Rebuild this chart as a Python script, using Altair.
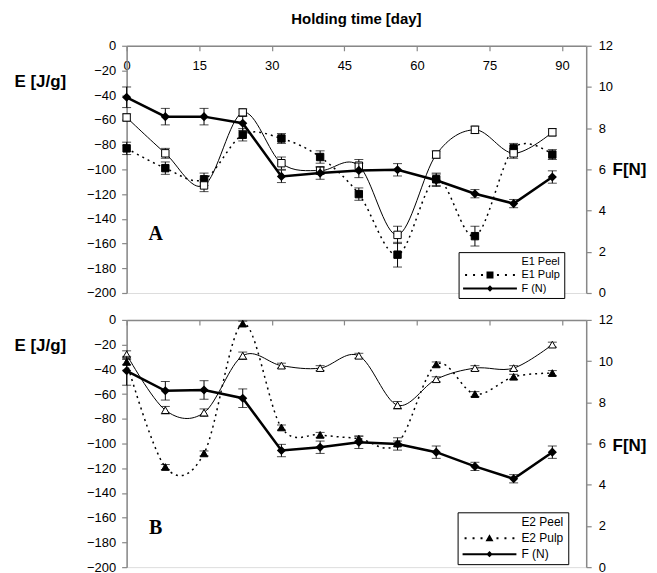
import altair as alt
import pandas as pd

# ---------------- data ----------------
days = [0, 8, 16, 24, 32, 40, 48, 56, 64, 72, 80, 88]
x_ticks = [0, 15, 30, 45, 60, 75, 90]
e_ticks = [-200, -180, -160, -140, -120, -100, -80, -60, -40, -20, 0]
f_ticks = [0, 2, 4, 6, 8, 10, 12]

# Panel A
e1_peel = [-58, -87, -113, -54, -95, -101, -97, -153, -88, -68, -87, -70]
e1_peel_err = [3, 4, 5, 3, 5, 3, 5, 7, 3, 3, 4, 3]
e1_pulp = [-83, -99, -108, -72, -75, -90, -120, -169, -108, -154, -83, -88]
e1_pulp_err = [5, 5, 5, 5, 4, 5, 5, 10, 5, 8, 4, 4]
f_a = [9.5, 8.56, 8.56, 8.24, 5.66, 5.82, 5.95, 5.98, 5.47, 4.82, 4.34, 5.63]
f_a_err = [0.5, 0.4, 0.4, 0.35, 0.3, 0.3, 0.35, 0.3, 0.3, 0.2, 0.2, 0.3]

# Panel B
e2_peel = [-28, -73, -75, -29, -37, -39, -29, -69, -48, -39, -39, -20]
e2_peel_err = [3, 3, 3, 3, 2, 2, 2, 3, 2, 2, 2, 2]
e2_pulp = [-34, -119, -108, -3, -87, -93, -96, -100, -36, -60, -46, -43]
e2_pulp_err = [2, 2, 2, 2, 2, 2, 2, 2, 2, 2, 2, 2]
f_b = [9.53, 8.56, 8.6, 8.2, 5.66, 5.82, 6.06, 5.98, 5.58, 4.89, 4.29, 5.58]
f_b_err = [0.7, 0.45, 0.45, 0.45, 0.3, 0.3, 0.3, 0.3, 0.3, 0.2, 0.2, 0.3]

names_a = ["E1 Peel", "E1 Pulp", "F (N)"]
names_b = ["E2 Peel", "E2 Pulp", "F (N)"]
letters = ["A", "B"]
letter_day = [6, 6]
letter_e = [-152, -168]

# ---------------- styling ----------------
W, H = 461, 248
FONT = "Liberation Sans"
U = 5.0  # px per path unit for legend symbol size 100


def p(v):
    return f"{v / U:.3f}"


def rect(x0, y0, x1, y1):
    return f"M{p(x0)},{p(y0)}H{p(x1)}V{p(y1)}H{p(x0)}Z"


def solid_line(gap):
    return f"M{p(-27)},0H{p(-gap)}M{p(gap)},0H{p(27)}"


def dotted():
    s = ""
    for c in [-24, -16, -8, 8, 16, 24]:
        s += rect(c - 1, -1, c + 1, 1)
    return s


SQ = rect(-3.5, -3.5, 3.5, 3.5)
TRI = f"M0,{p(-4)}L{p(4)},{p(3)}H{p(-4)}Z"
DIA = f"M0,{p(-3.2)}L{p(3.2)},0L0,{p(3.2)}L{p(-3.2)},0Z"
path_peel_a = solid_line(3.5) + SQ
path_pulp_a = dotted() + SQ
path_f = rect(-27, -1, 27, 1) + DIA
path_peel_b = solid_line(4) + TRI
path_pulp_b = dotted() + TRI


def panel(peel, peel_err, pulp, pulp_err, f, f_err, names, shapes, pts, letter,
          lday, le, legend_xy, etitle_y, ftitle_y, show_labels, fld, title=None,
          row_pad=0, leg_font=12):
    df = pd.DataFrame({"day": days, "peel": peel, "peel_err": peel_err,
                       "pulp": pulp, "pulp_err": pulp_err, "f": f, "f_err": f_err})
    base = alt.Chart(df)

    xaxis = alt.Axis(orient="bottom", offset=-H, values=x_ticks, tickSize=5,
                     labelPadding=9, labelFontSize=13, labels=show_labels,
                     domainWidth=1.5, tickWidth=1.2, labelFlush=False,
                     labelOverlap=False, title=None, grid=False)
    xs = alt.Scale(domain=[0, 95], nice=False, zero=False)
    X = alt.X("day:Q", scale=xs, axis=xaxis)

    eaxis = alt.Axis(orient="left", values=e_ticks, tickSize=5, labelPadding=6,
                     labelFontSize=13, domainWidth=1.5, tickWidth=1.2,
                     labelFlush=False, labelOverlap=False, grid=False,
                     title="E [J/g]", titleAngle=0, titleAlign="left",
                     titleBaseline="middle", titleX=-113, titleY=etitle_y,
                     titleFontSize=17, titleFontWeight="bold")
    es = alt.Scale(domain=[-200, 0], nice=False, zero=False)

    def EY(field):
        return alt.Y(field, type="quantitative", scale=es, axis=eaxis)

    faxis = alt.Axis(orient="right", values=f_ticks, tickSize=5, labelPadding=7,
                     labelFontSize=13, domainWidth=1.5, tickWidth=1.2,
                     labelFlush=False, labelOverlap=False, grid=False,
                     title="F[N]", titleAngle=0, titleAlign="left",
                     titleBaseline="middle", titleX=26, titleY=ftitle_y,
                     titleFontSize=17, titleFontWeight="bold")
    fs = alt.Scale(domain=[0, 12], nice=False, zero=False)

    def FY(field):
        return alt.Y(field, type="quantitative", scale=fs, axis=faxis)

    tick = {"size": 9, "color": "black"}

    pulp_line = base.mark_line(interpolate="cardinal", color="black",
                               strokeWidth=1.5, strokeDash=[2, 4]).encode(x=X, y=EY("pulp"))
    peel_line = base.mark_line(interpolate="cardinal", color="black",
                               strokeWidth=1).encode(x=X, y=EY("peel"))
    pulp_eb = base.mark_errorbar(ticks=tick, color="black", thickness=1).encode(
        x=X, y=EY("pulp"), yError="pulp_err:Q")
    peel_eb = base.mark_errorbar(ticks=tick, color="black", thickness=1).encode(
        x=X, y=EY("peel"), yError="peel_err:Q")
    pulp_pt = base.mark_point(shape=pts[1], filled=True, fill="black", stroke="black",
                              strokeWidth=1, size=pts[2], opacity=1).encode(x=X, y=EY("pulp"))
    peel_pt = base.mark_point(shape=pts[0], filled=True, fill="white", stroke="black",
                              strokeWidth=1, size=pts[2], opacity=1).encode(x=X, y=EY("peel"))

    leg = alt.Legend(orient="none", legendX=legend_xy[0], legendY=legend_xy[1],
                     title=None, symbolSize=100, symbolStrokeColor="black",
                     symbolStrokeWidth=1, strokeColor="black", fillColor="white",
                     padding=4, labelFontSize=leg_font, labelFont=FONT, labelColor="black",
                     rowPadding=row_pad, labelOffset=26, symbolOffset=22)
    ldf = pd.DataFrame({fld: names})
    legend_layer = alt.Chart(ldf).transform_filter("false").mark_point(
        filled=True, stroke="black", strokeWidth=1, opacity=1).encode(
        shape=alt.Shape(f"{fld}:N", scale=alt.Scale(domain=names, range=shapes), legend=leg),
        fill=alt.Fill(f"{fld}:N", scale=alt.Scale(domain=names, range=["white", "black", "black"]), legend=leg),
    )

    tdf = pd.DataFrame({"day": [lday], "E": [le], "t": [letter]})
    letter_layer = alt.Chart(tdf).mark_text(font="Liberation Serif", fontSize=20,
                                            fontWeight="bold", color="black").encode(
        x=X, y=EY("E"), text="t:N")

    e_group = alt.layer(pulp_line, peel_line, pulp_eb, peel_eb, pulp_pt, peel_pt,
                        letter_layer, legend_layer)

    f_line = base.mark_line(color="black", strokeWidth=2.5).encode(x=X, y=FY("f"))
    f_eb = base.mark_errorbar(ticks=tick, color="black", thickness=1).encode(
        x=X, y=FY("f"), yError="f_err:Q")
    f_pt = base.mark_point(shape="diamond", filled=True, fill="black", stroke="black",
                           size=40, opacity=1).encode(x=X, y=FY("f"))
    f_group = alt.layer(f_line, f_eb, f_pt)

    ch = alt.layer(e_group, f_group).resolve_scale(y="independent").properties(
        width=W, height=H)
    if title is not None:
        ch = ch.properties(title=title)
    return ch


title = alt.TitleParams("Holding time [day]", fontSize=15, fontWeight="bold",
                        anchor="middle", offset=13, font=FONT, color="black")

chart_a = panel(e1_peel, e1_peel_err, e1_pulp, e1_pulp_err, f_a, f_a_err, names_a,
                [path_peel_a, path_pulp_a, path_f], ["square", "square", 55],
                letters[0], letter_day[0], letter_e[0], (333, 207), 36, 124, True,
                "sa", title=title, row_pad=1.5, leg_font=11)
chart_b = panel(e2_peel, e2_peel_err, e2_pulp, e2_pulp_err, f_b, f_b_err, names_b,
                [path_peel_b, path_pulp_b, path_f], ["triangle-up", "triangle-up", 60],
                letters[1], letter_day[1], letter_e[1], (332, 193), 26, 126, False,
                "sb", row_pad=4, leg_font=12)

chart = alt.vconcat(chart_a, chart_b, spacing=12).resolve_scale(
    shape="independent", fill="independent").resolve_legend(
    shape="independent", fill="independent").properties(
    padding={"top": 2, "left": 5, "right": 2, "bottom": 0}).configure_view(
    stroke=None).configure_axis(domainColor="black", tickColor="black",
                                labelColor="black", titleColor="black",
                                labelFont=FONT, titleFont=FONT).configure(
    background="white")

chart.save("out.html", embed_options={"renderer": "svg", "actions": False})
